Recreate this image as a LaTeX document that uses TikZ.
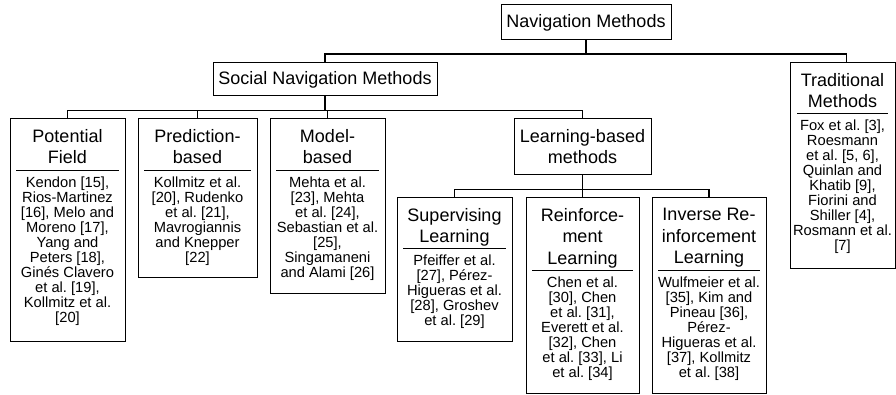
\documentclass[tikz,border=0pt]{standalone}
\usepackage{fontspec}
\setmainfont{Liberation Sans}
\usetikzlibrary{calc}
\frenchspacing
\begin{document}
\begin{tikzpicture}[x=1pt,y=-1pt,
  box/.style={draw,line width=1pt,inner sep=0pt,outer sep=0pt},
  ttl/.style={font=\fontsize{18}{21.7}\selectfont,align=center,anchor=north,inner sep=0pt},
  bdy/.style={font=\fontsize{14.7}{15}\selectfont,align=center,anchor=north,inner sep=0pt},
  sepline/.style={line width=0.9pt},
  conn/.style={line width=1.1pt}]
\useasboundingbox (0,0) rectangle (896,395);
% top level
\node[box,minimum width=170pt,minimum height=35pt,font=\fontsize{18}{21.7}\selectfont] (nav) at (586,22.5) {Navigation Methods};
\node[box,minimum width=224pt,minimum height=33pt,font=\fontsize{18}{21.7}\selectfont] (soc) at (325,79.5) {Social Navigation Methods};
\node[box,minimum width=105pt,minimum height=205pt] (trad) at (842.5,165.5) {};
% second level
\node[box,minimum width=115pt,minimum height=222pt] (pf) at (67.5,230) {};
\node[box,minimum width=119pt,minimum height=158pt] (pred) at (197.5,198) {};
\node[box,minimum width=115pt,minimum height=174pt] (model) at (327.5,206) {};
\node[box,minimum width=137pt,minimum height=56pt] (learn) at (582.5,147) {};
% third level
\node[box,minimum width=115pt,minimum height=143pt] (sup) at (454.5,269.5) {};
\node[box,minimum width=113pt,minimum height=195pt] (rl) at (582.5,295.5) {};
\node[box,minimum width=114pt,minimum height=195pt] (irl) at (709,295.5) {};
% bar levels
\coordinate (bar1) at (0,54);
\coordinate (bar2) at (0,110.5);
\coordinate (bar3) at (0,189.5);
% connectors
\draw[conn] (nav.south) -- (nav.south |- bar1) -| (soc.north);
\draw[conn] (nav.south |- bar1) -| ([xshift=4pt]trad.north);
\draw[conn] (soc.south) -- (soc.south |- bar2) -| (pf.north);
\draw[conn] (soc.south |- bar2) -| (pred.north);
\draw[conn] (soc.south |- bar2) -| (model.north);
\draw[conn] (soc.south |- bar2) -| (learn.north);
\draw[conn] (learn.south) -- (learn.south |- bar3) -| (sup.north);
\draw[conn] (learn.south |- bar3) -| (rl.north);
\draw[conn] (learn.south |- bar3) -| (irl.north);
% titles
\node[ttl] (tradt) at ($(trad.north)+(0,10)$) {Traditional\\Methods};
\node[ttl] (pft) at ($(pf.north)+(0,10)$) {Potential\\Field};
\node[ttl] (predt) at ($(pred.north)+(0,10)$) {Prediction-\\based};
\node[ttl] (modelt) at ($(model.north)+(0,10)$) {Model-\\based};
\node[ttl] (learnt) at ($(learn.north)+(0,10)$) {Learning-based\\methods};
\node[ttl] (supt) at ($(sup.north)+(0,10)$) {Supervising\\Learning};
\node[ttl] (rlt) at ($(rl.north)+(0,10)$) {Reinforce-\\ment\\Learning};
\node[ttl] (irlt) at ($(irl.north)+(0,10)$) {Inverse Re-\\inforcement\\Learning};
% separators
\draw[sepline] ($(trad.north west)+(7,50)$) -- ($(trad.north east)+(-7,50)$);
\draw[sepline] ($(pf.north west)+(6,51)$) -- ($(pf.north east)+(-6,51)$);
\draw[sepline] ($(pred.north west)+(6,51)$) -- ($(pred.north east)+(-6,51)$);
\draw[sepline] ($(model.north west)+(6,51)$) -- ($(model.north east)+(-6,51)$);
\draw[sepline] ($(sup.north west)+(6,50)$) -- ($(sup.north east)+(-6,50)$);
\draw[sepline] ($(rl.north west)+(6,72)$) -- ($(rl.north east)+(-6,72)$);
\draw[sepline] ($(irl.north west)+(6,72)$) -- ($(irl.north east)+(-6,72)$);
% bodies
\node[bdy] (tradb) at ($(trad.north)+(0,56.5)$) {Fox et al. [3],\\Roesmann\\et al. [5, 6],\\Quinlan and\\Khatib [9],\\Fiorini and\\Shiller [4],\\Rosmann et al.\\{}[7]};
\node[bdy] (pfb) at ($(pf.north)+(0,57.5)$) {Kendon [15],\\Rios-Martinez\\{}[16], Melo and\\Moreno [17],\\Yang and\\Peters [18],\\Ginés Clavero\\et al. [19],\\Kollmitz et al.\\{}[20]};
\node[bdy] (predb) at ($(pred.north)+(0,57.5)$) {Kollmitz et al.\\{}[20], Rudenko\\et al. [21],\\Mavrogiannis\\and Knepper\\{}[22]};
\node[bdy] (modelb) at ($(model.north)+(0,57.5)$) {Mehta et al.\\{}[23], Mehta\\et al. [24],\\Sebastian et al.\\{}[25],\\Singamaneni\\and Alami [26]};
\node[bdy] (supb) at ($(sup.north)+(0,56.5)$) {Pfeiffer et al.\\{}[27], Pérez-\\Higueras et al.\\{}[28], Groshev\\et al. [29]};
\node[bdy] (rlb) at ($(rl.north)+(0,78.5)$) {Chen et al.\\{}[30], Chen\\et al. [31],\\Everett et al.\\{}[32], Chen\\et al. [33], Li\\et al. [34]};
\node[bdy] (irlb) at ($(irl.north)+(0,78.5)$) {Wulfmeier et al.\\{}[35], Kim and\\Pineau [36],\\Pérez-\\Higueras et al.\\{}[37], Kollmitz\\et al. [38]};
\end{tikzpicture}
\end{document}
